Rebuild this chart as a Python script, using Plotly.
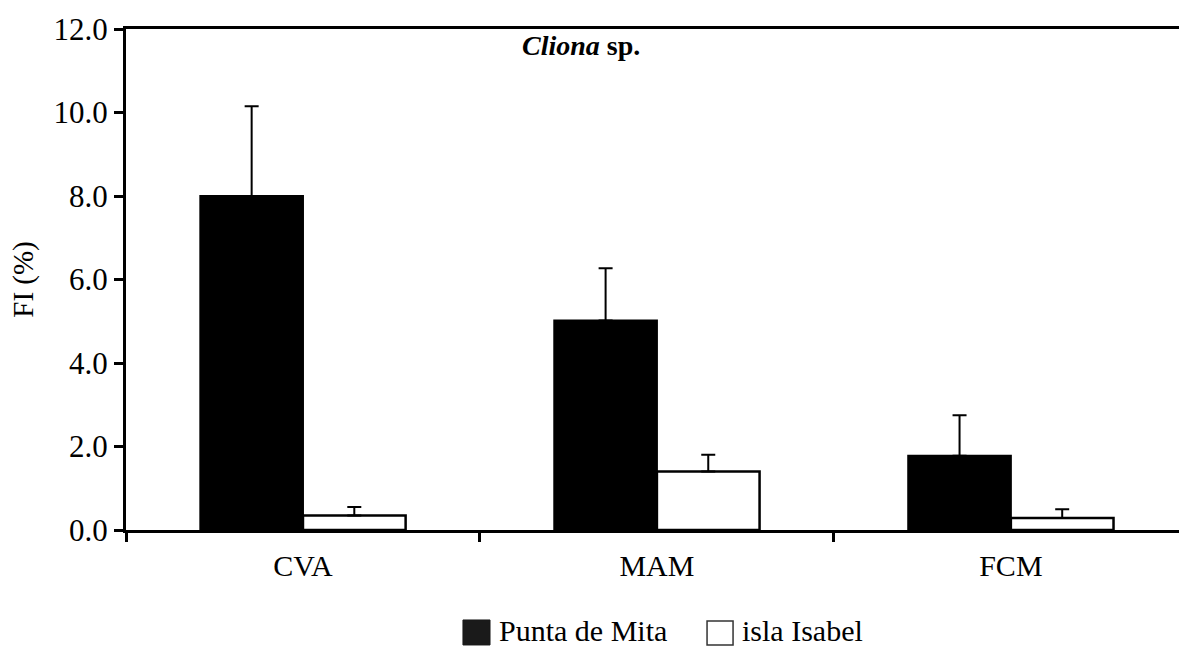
import plotly.graph_objects as go

categories = ["CVA", "MAM", "FCM"]
punta_vals = [8.0, 5.02, 1.78]
punta_err = [2.15, 1.25, 0.97]
isabel_vals = [0.35, 1.4, 0.29]
isabel_err = [0.2, 0.4, 0.21]
series_names = ["Punta de Mita", "isla Isabel"]
y_ticks = [0, 2, 4, 6, 8, 10, 12]
y_ticktext = ["0.0", "2.0", "4.0", "6.0", "8.0", "10.0", "12.0"]

FONT = "Liberation Serif"

fig = go.Figure()
fig.add_trace(go.Bar(
    x=categories, y=punta_vals, name=series_names[0], showlegend=False,
    marker=dict(color="black", line=dict(color="black", width=2)),
    error_y=dict(type="data", array=punta_err, arrayminus=[0]*3, symmetric=False,
                 color="black", thickness=2, width=7),
))
fig.add_trace(go.Bar(
    x=categories, y=isabel_vals, name=series_names[1], showlegend=False,
    marker=dict(color="white", line=dict(color="black", width=2.5)),
    error_y=dict(type="data", array=isabel_err, arrayminus=[0]*3, symmetric=False,
                 color="black", thickness=2, width=7),
))

# custom legend below the plot (large square swatches as in the original)
leg_bottom = -0.2375
shapes = [
    dict(type="rect", xref="paper", yref="paper", x0=0.3200, x1=0.3457, y0=-0.2295, y1=-0.1796,
         fillcolor="#1a1a1a", line=dict(color="#1a1a1a", width=1)),
    dict(type="rect", xref="paper", yref="paper", x0=0.5518, x1=0.5765, y0=-0.2295, y1=-0.1816,
         fillcolor="white", line=dict(color="#333333", width=1.5)),
]
annotations = [
    dict(text="<b><i>Cliona</i> sp.</b>", x=0.432, xref="paper", y=11.6, yref="y",
         showarrow=False, font=dict(size=28, family=FONT), xanchor="center", yanchor="middle"),
    dict(text=series_names[0], x=0.3523, xref="paper", y=leg_bottom, yref="paper",
         showarrow=False, font=dict(size=30, family=FONT), xanchor="left", yanchor="bottom"),
    dict(text=series_names[1], x=0.5831, xref="paper", y=leg_bottom, yref="paper",
         showarrow=False, font=dict(size=30, family=FONT), xanchor="left", yanchor="bottom"),
]

fig.update_layout(
    width=1179, height=650,
    margin=dict(l=126, r=0, t=29, b=120),
    paper_bgcolor="white", plot_bgcolor="white",
    barmode="group", bargap=0.42, bargroupgap=0,
    font=dict(family=FONT, color="black", size=27),
    showlegend=False,
    xaxis=dict(
        type="category", range=[-0.5, 2.475],
        showline=True, linecolor="black", linewidth=3, mirror=True,
        ticks="outside", tickson="boundaries", ticklen=9, tickwidth=2.5, tickcolor="black",
        tickfont=dict(size=30, family=FONT), ticklabelstandoff=7,
        showgrid=False, zeroline=False,
    ),
    yaxis=dict(
        range=[0, 12], tickvals=y_ticks, ticktext=y_ticktext,
        showline=True, linecolor="black", linewidth=3, mirror=False,
        ticks="outside", ticklen=9, tickwidth=2.5, tickcolor="black",
        tickfont=dict(size=31, family=FONT), showgrid=False, zeroline=False,
        title=dict(text="FI (%)", font=dict(size=29, family=FONT), standoff=12),
    ),
    shapes=shapes,
    annotations=annotations,
)
fig.write_html("out.html")
